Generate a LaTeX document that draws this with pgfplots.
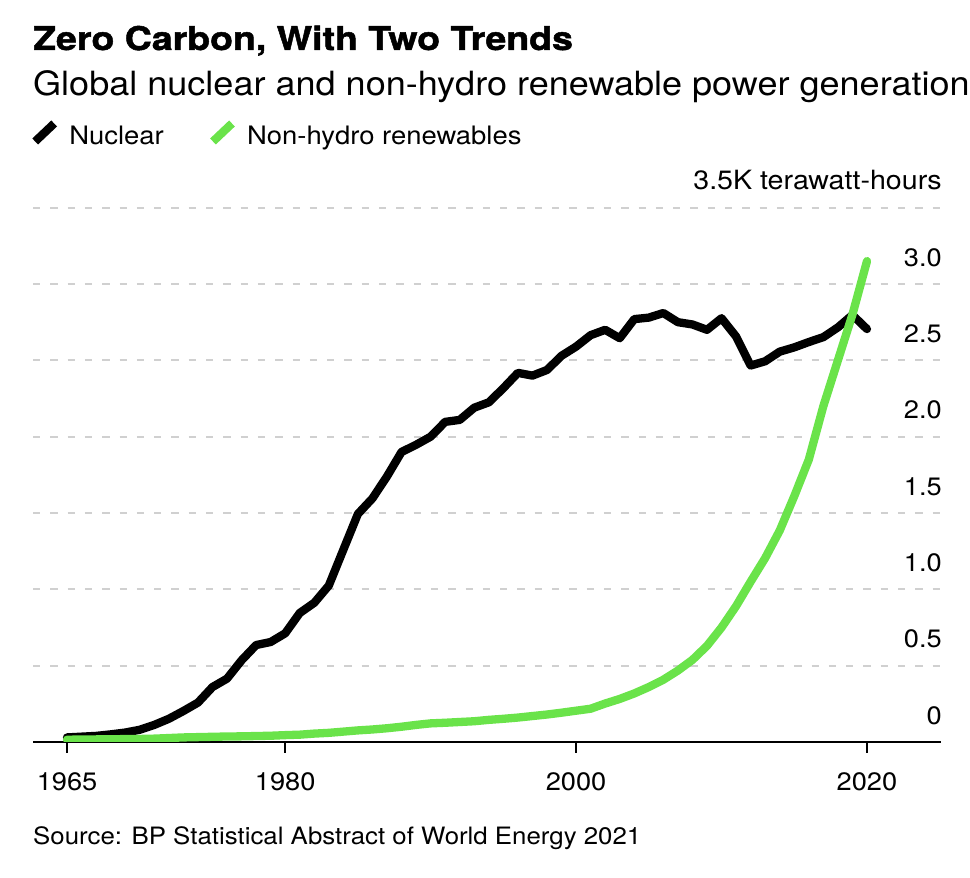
\documentclass[border=0pt]{standalone}
\usepackage{fontspec}
\setmainfont{TeX Gyre Heros}[FakeStretch=1.08]
\newfontfamily\titlefont{TeX Gyre Heros}[FakeStretch=1.15, FakeBold=1.5]
\usepackage{pgfplots}
\pgfplotsset{compat=1.18}
\definecolor{bgreen}{RGB}{106,227,74}
\definecolor{gridgray}{RGB}{208,208,208}

\pgfplotstableread{
year nuclear
1965 0.030
1966 0.035
1967 0.040
1968 0.050
1969 0.062
1970 0.080
1971 0.112
1972 0.152
1973 0.203
1974 0.258
1975 0.360
1976 0.415
1977 0.535
1978 0.635
1979 0.655
1980 0.712
1981 0.845
1982 0.912
1983 1.025
1984 1.260
1985 1.494
1986 1.596
1987 1.740
1988 1.900
1989 1.947
1990 2.000
1991 2.097
1992 2.110
1993 2.190
1994 2.225
1995 2.318
1996 2.418
1997 2.400
1998 2.437
1999 2.530
2000 2.590
2001 2.665
2002 2.700
2003 2.645
2004 2.770
2005 2.780
2006 2.810
2007 2.750
2008 2.735
2009 2.700
2010 2.776
2011 2.656
2012 2.466
2013 2.494
2014 2.557
2015 2.585
2016 2.620
2017 2.652
2018 2.716
2019 2.797
2020 2.705
}\nucleartable

\pgfplotstableread{
year renew
1965 0.015
1966 0.016
1967 0.017
1968 0.018
1969 0.019
1970 0.020
1971 0.022
1972 0.026
1973 0.030
1974 0.032
1975 0.034
1976 0.036
1977 0.037
1978 0.039
1979 0.041
1980 0.045
1981 0.048
1982 0.055
1983 0.060
1984 0.068
1985 0.076
1986 0.082
1987 0.090
1988 0.100
1989 0.112
1990 0.122
1991 0.126
1992 0.131
1993 0.136
1994 0.145
1995 0.152
1996 0.160
1997 0.170
1998 0.180
1999 0.192
2000 0.205
2001 0.218
2002 0.252
2003 0.282
2004 0.318
2005 0.360
2006 0.408
2007 0.468
2008 0.538
2009 0.630
2010 0.750
2011 0.890
2012 1.050
2013 1.205
2014 1.385
2015 1.610
2016 1.850
2017 2.200
2018 2.500
2019 2.800
2020 3.150
}\renewtable

\begin{document}
\begin{tikzpicture}[x=1bp,y=1bp]
\useasboundingbox (0,0) rectangle (970,878);
\begin{axis}[
  at={(33bp,136bp)}, anchor=south west,
  scale only axis, width=908bp, height=534.3bp,
  xmin=1962.66, xmax=2025.09, ymin=0, ymax=3.5,
  axis x line=bottom, axis y line=right,
  axis line style={-},
  x axis line style={line width=1.5bp, black},
  y axis line style={draw=none},
  xtick={1965,1980,2000,2020},
  xticklabels={1965,1980,2000,2020},
  ytick={0,0.5,1,1.5,2,2.5,3,3.5},
  yticklabels={0,0.5,1.0,1.5,2.0,2.5,3.0,{\fontsize{26.6}{30}\selectfont 3.5K terawatt-hours}},
  ymajorgrids,
  major grid style={gridgray, line width=2bp, dash pattern=on 7.3bp off 10bp},
  tick align=outside,
  major tick length=11bp,
  x tick style={black, line width=1.5bp},
  y tick style={draw=none},
  ticklabel style={font=\fontsize{25.3}{30}\selectfont},
  xticklabel style={anchor=base, inner sep=0pt, yshift=-37.7bp},
  yticklabel style={anchor=base east, inner sep=0pt, yshift=17.7bp, xshift=-10bp},
  no markers,
  legend columns=2,
  legend image code/.code={\draw[#1, line cap=butt] (0bp,-5bp) -- (19bp,13bp);},
  legend style={draw=none, fill=none, inner sep=0pt, outer sep=0pt,
    at={(axis description cs:-0.0022,1.1108)}, anchor=south west,
    font=\fontsize{25.5}{30}\selectfont,
    nodes={inner sep=2bp, text depth=0.15em},
    cells={anchor=west},
    /tikz/column 1/.style={column sep=9bp},
    /tikz/column 2/.style={column sep=43bp},
    /tikz/column 3/.style={column sep=9bp}},
]
\addplot[black, line width=8.3bp, line cap=round, line join=round] table[x=year, y=nuclear] {\nucleartable};
\addlegendentry{Nuclear}
\addplot[bgreen, line width=8.3bp, line cap=round, line join=round] table[x=year, y=renew] {\renewtable};
\addlegendentry{Non-hydro renewables}
\end{axis}
\node[anchor=base west, inner sep=0pt, font=\titlefont\bfseries\fontsize{32.7}{36}\selectfont] at (33,828) {Zero Carbon, With Two Trends};
\node[anchor=base west, inner sep=0pt, font=\fontsize{33.5}{38}\selectfont] at (33,782) {Global nuclear and non-hydro renewable power generation};
\node[anchor=base west, inner sep=0pt, font=\fontsize{24}{28}\selectfont] at (33,33) {Source: BP Statistical Abstract of World Energy 2021};
\end{tikzpicture}
\end{document}
